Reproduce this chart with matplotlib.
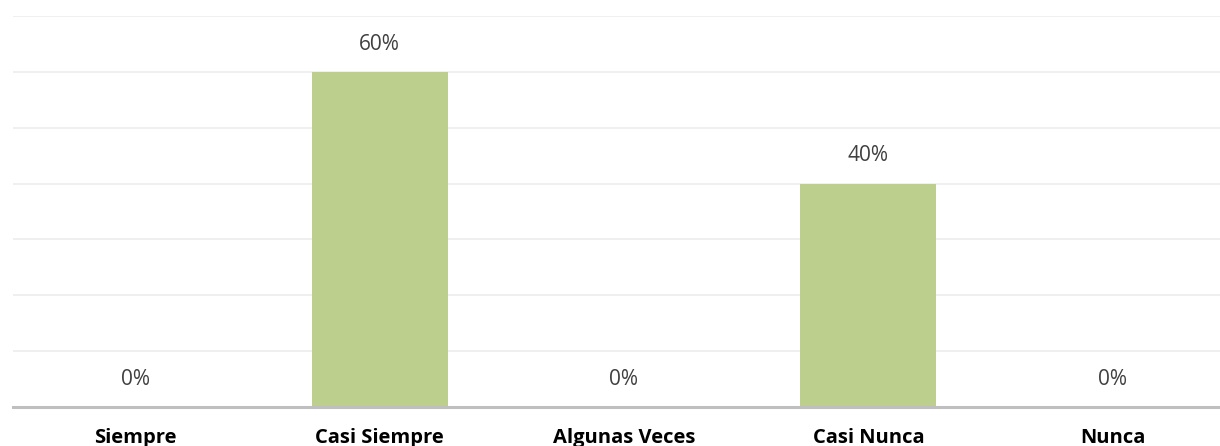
import matplotlib.pyplot as plt
import numpy as np

categories = ["Siempre", "Casi Siempre", "Algunas Veces", "Casi Nunca", "Nunca"]
values = [0, 60, 0, 40, 0]
value_labels = ["0%", "60%", "0%", "40%", "0%"]

W, H = 1220, 446
fig = plt.figure(figsize=(W / 100, H / 100), dpi=100)
# axes area in pixels (left, bottom from top)
left_px, right_px, top_px, bottom_px = 13, 1235, 16, 407
ax = fig.add_axes([left_px / W, 1 - bottom_px / H,
                   (right_px - left_px) / W, (bottom_px - top_px) / H])

x = np.arange(len(categories))
ax.bar(x, values, width=0.556, color="#bccf8c", zorder=2)

ax.set_xlim(-0.5, len(categories) - 0.5)
ax.set_ylim(0, 70)
ax.set_yticks(np.arange(10, 71, 10))
ax.yaxis.grid(True, color="#ececec", linewidth=1.2, zorder=0)
ax.tick_params(axis="y", left=False, labelleft=False)
ax.tick_params(axis="x", bottom=False, pad=11.5)
ax.set_xticks(x)
ax.set_xticklabels(categories, fontfamily="Open Sans", fontweight="bold",
                   fontsize=14.5, color="black")

for s in ["top", "right", "left"]:
    ax.spines[s].set_visible(False)
ax.spines["bottom"].set_color("#bfbfbf")
ax.spines["bottom"].set_linewidth(2.2)
ax.spines["bottom"].set_zorder(3)

for xi, v, lab in zip(x, values, value_labels):
    ax.annotate(lab, (xi, v), xytext=(0, 20), textcoords="offset points",
                ha="center", va="center", fontsize=15, color="#404040",
                fontfamily="Open Sans",
                bbox=dict(boxstyle="square,pad=0.5", fc="white", ec="none"),
                zorder=4)

fig.savefig("out.png", dpi=100)
